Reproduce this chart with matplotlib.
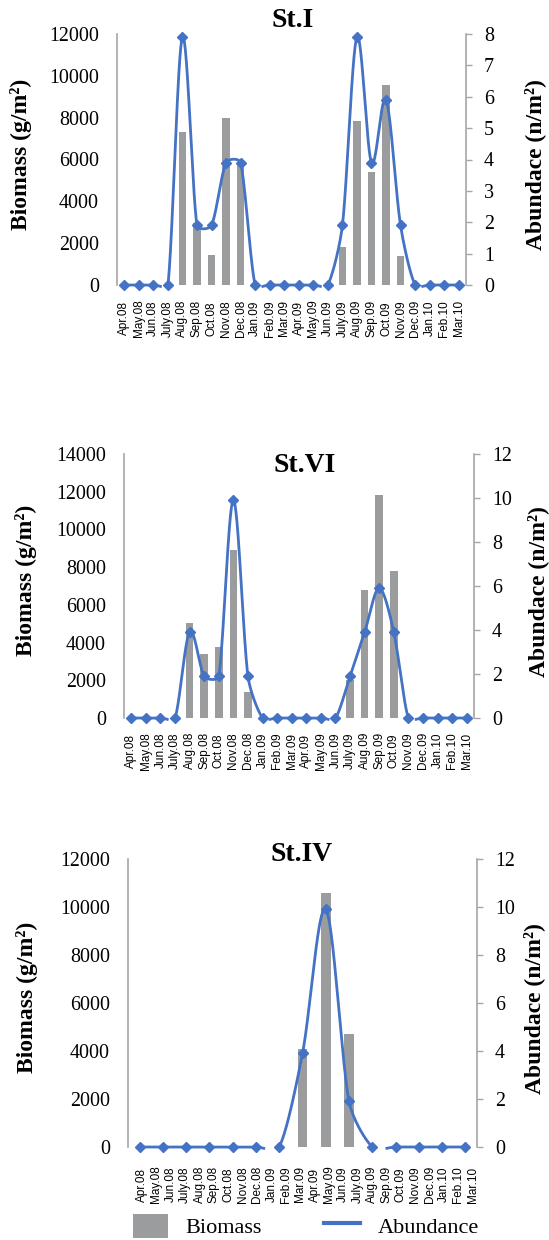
import numpy as np
import matplotlib
matplotlib.use('Agg')
import matplotlib.pyplot as plt
from matplotlib.patches import Patch
from matplotlib.lines import Line2D

months = ['Apr.08', 'May.08', 'Jun.08', 'July.08', 'Aug.08', 'Sep.08', 'Oct.08', 'Nov.08',
          'Dec.08', 'Jan.09', 'Feb.09', 'Mar.09', 'Apr.09', 'May.09', 'Jun.09', 'July.09',
          'Aug.09', 'Sep.09', 'Oct.09', 'Nov.09', 'Dec.09', 'Jan.10', 'Feb.10', 'Mar.10']

# St.I, monthly
st1_biomass = [0, 0, 0, 0, 7300, 2950, 1450, 8000, 5750, 0, 0, 0,
               0, 0, 0, 1800, 7850, 5400, 9550, 1400, 0, 0, 0, 0]
st1_abund = [0, 0, 0, 0, 7.9, 1.9, 1.9, 3.9, 3.9, 0, 0, 0,
             0, 0, 0, 1.9, 7.9, 3.9, 5.9, 1.9, 0, 0, 0, 0]

# St.VI, monthly
st6_biomass = [0, 0, 0, 0, 5050, 3400, 3750, 8900, 1400, 0, 0, 0,
               0, 0, 0, 2000, 6800, 11800, 7800, 0, 0, 0, 0, 0]
st6_abund = [0, 0, 0, 0, 3.9, 1.9, 1.9, 9.9, 1.9, 0, 0, 0,
             0, 0, 0, 1.9, 3.9, 5.9, 3.9, 0, 0, 0, 0, 0]

# St.IV, 15 samples
st4_biomass = [0, 0, 0, 0, 0, 0, 0, 4100, 10600, 4700, 0, 0, 0, 0, 0]
st4_abund = [0, 0, 0, 0, 0, 0, 0, 3.9, 9.9, 1.9, 0, 0, 0, 0, 0]

GRAY = '#9a9c9d'
BLUE = '#4472c4'
SPINE = '#a6a6a6'
SERIF = 'Liberation Serif'
SANS = 'Liberation Sans'
LINE_W = 2.0

plt.rcParams['font.family'] = SERIF


def smooth_line(ax, x, y, n=40, limit=1 / 3.0):
    # Bezier curve through the points, built in screen space like a spreadsheet
    # "smoothed line": tangents from the neighbours, handles capped by segment length
    pts = ax.transData.transform(np.column_stack([x, y]).astype(float))
    P = np.vstack([pts[0], pts, pts[-1]])
    t = np.linspace(0, 1, n, endpoint=False)[:, None]
    out = []
    for i in range(len(pts) - 1):
        p0, p1, p2, p3 = P[i], P[i + 1], P[i + 2], P[i + 3]
        seg = np.hypot(*(p2 - p1))
        v1 = (p2 - p0) / 6.0
        v2 = (p3 - p1) / 6.0
        for v in (v1, v2):
            ln = np.hypot(*v)
            if ln > limit * seg and ln > 0:
                v *= limit * seg / ln
        c1 = p1 + v1
        c2 = p2 - v2
        out.append((1 - t) ** 3 * p1 + 3 * (1 - t) ** 2 * t * c1
                   + 3 * (1 - t) * t ** 2 * c2 + t ** 3 * p2)
    out.append(pts[-1:])
    curve = np.vstack(out)
    # anything more than half a line width under the axis is outside the plot area
    y0 = ax.transData.transform((0, 0))[1]
    half = LINE_W * fig.dpi / 72.0 / 2.0
    curve[curve[:, 1] < y0 - half, 1] = np.nan
    data = ax.transData.inverted().transform(np.nan_to_num(curve, nan=-1e6))
    data[np.isnan(curve[:, 1]), 1] = np.nan
    return data[:, 0], data[:, 1]


def panel(rect, biomass, abund, title, bmax, amax, astep, title_xy, ylab_x, rlab_x,
          nbar_w, tick_pos, label_pad):
    ax = fig.add_axes(rect)
    n = len(biomass)
    x = np.arange(n)
    ax.bar(x, biomass, width=nbar_w, color=GRAY, zorder=1)
    ax.set_xlim(-0.5, n - 0.5)
    ax.set_ylim(0, bmax)
    ax.set_yticks(np.arange(0, bmax + 1, 2000))
    ax.tick_params(axis='y', length=0, pad=13, labelsize=14.4)
    ax.set_xticks(tick_pos)
    ax.set_xticklabels(months, rotation=90, fontsize=8.5, family=SANS)
    ax.tick_params(axis='x', length=0, pad=label_pad)
    for lbl in ax.get_xticklabels():
        lbl.set_verticalalignment('center')
    for s in ['top', 'right', 'bottom']:
        ax.spines[s].set_visible(False)
    ax.spines['left'].set_color(SPINE)
    ax.spines['left'].set_linewidth(1.2)
    ax.set_ylabel('Biomass (g/m²)', fontsize=17, fontweight='bold')
    ax.yaxis.label.set_verticalalignment('center')
    ax.yaxis.set_label_coords(ylab_x, 0.52)

    ax2 = ax.twinx()
    ax2.set_ylim(0, amax)
    ax2.set_yticks(np.arange(0, amax + 0.1, astep))
    ax2.tick_params(axis='y', direction='out', length=4, width=1, color=SPINE,
                    pad=9, labelsize=14.4)
    for s in ['top', 'left', 'bottom']:
        ax2.spines[s].set_visible(False)
    ax2.spines['right'].set_color(SPINE)
    ax2.spines['right'].set_linewidth(1.2)
    ax2.set_ylabel('Abundace (n/m²)', fontsize=17, fontweight='bold')
    ax2.yaxis.label.set_verticalalignment('center')
    ax2.yaxis.set_label_coords(rlab_x, 0.48)

    xs, ys = smooth_line(ax2, x, abund)
    ax2.plot(xs, ys, color=BLUE, lw=LINE_W, clip_on=False, zorder=3)
    ax2.plot(x, abund, linestyle='none', marker='D', markersize=5.5, color=BLUE,
             clip_on=False, zorder=4)

    ax.text(title_xy[0], title_xy[1], title, transform=ax.transAxes, ha='center',
            va='center', fontsize=20, fontweight='bold', zorder=5)
    return ax, ax2


fig = plt.figure(figsize=(5.49, 12.40), dpi=100)
W, H = 549.0, 1240.0


def rect(x0, x1, y0, y1):
    return [x0 / W, 1 - y1 / H, (x1 - x0) / W, (y1 - y0) / H]


panel(rect(117, 466, 34, 285), st1_biomass, st1_abund, 'St.I', 12000, 8, 1,
      (0.504, 1.052), -0.275, 1.199, 0.53, np.arange(24), 24)
panel(rect(124, 474, 454, 718), st6_biomass, st6_abund, 'St.VI', 14000, 12, 2,
      (0.516, 0.958), -0.28, 1.183, 0.53, np.arange(24), 23.5)
panel(rect(128, 477, 859, 1147), st4_biomass, st4_abund, 'St.IV', 12000, 12, 2,
      (0.498, 1.017), -0.29, 1.164, 0.42, np.linspace(0.1, 14.32, 24), 27)

handles = [Patch(facecolor=GRAY, edgecolor='none'),
           Line2D([], [], color=BLUE, lw=3)]
fig.legend(handles, ['Biomass', 'Abundance'], loc='center', bbox_to_anchor=(0.557, 0.0113),
           ncol=2, frameon=False, fontsize=16, handlelength=1.6, handleheight=1.3,
           handletextpad=0.8, columnspacing=2.8)

fig.savefig('out.png', dpi=100)
